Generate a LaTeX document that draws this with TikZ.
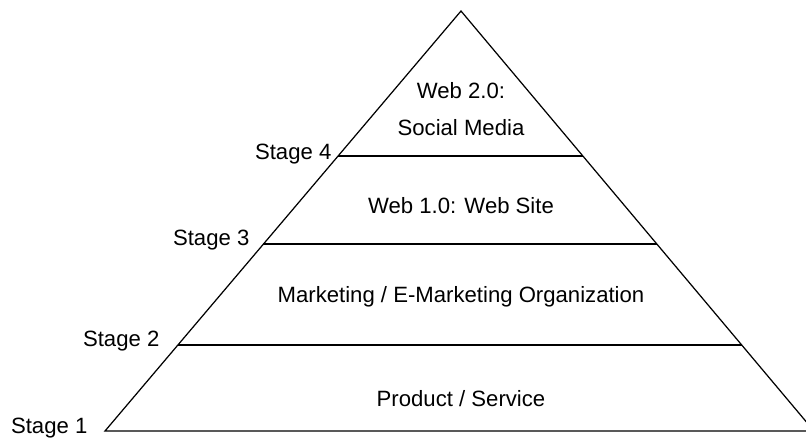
\documentclass[tikz,border=0pt]{standalone}
\usepackage{fontspec}
\setmainfont{Liberation Sans}
\usetikzlibrary{calc}

\tikzset{
  stagelbl/.style={anchor=base east,inner sep=0pt,font=\fontsize{12.6}{15}\selectfont},
  layerlbl/.style={anchor=base,inner sep=0pt,font=\fontsize{12.6}{15}\selectfont},
}

\begin{document}
\begin{tikzpicture}[x=0.02cm,y=-0.02cm,line width=0.7pt]
      \useasboundingbox (0,0) rectangle (806,437);
      \coordinate (top) at (461,11);
      \coordinate (bl) at (105,431);
      \coordinate (br) at (814,431);
      % pyramid
      \draw[line join=miter] (bl)--(top)--(br)--cycle;
      % stage lines
      \coordinate (s2l) at ($(bl)!0.2048!(top)$);
      \coordinate (s2r) at ($(br)!0.2048!(top)$);
      \coordinate (s3l) at ($(bl)!0.4452!(top)$);
      \coordinate (s3r) at ($(br)!0.4452!(top)$);
      \coordinate (s4l) at ($(bl)!0.6548!(top)$);
      \coordinate (s4r) at ($(br)!0.6548!(top)$);
      \draw (s2l)--(s2r);
      \draw (s3l)--(s3r);
      \draw (s4l)--(s4r);
      % stage labels
      \node[stagelbl] (st1) at (88,433) {Stage 1};
      \node[stagelbl] (st2) at (160,346) {Stage 2};
      \node[stagelbl] (st3) at (250,245) {Stage 3};
      \node[stagelbl] (st4) at (332,159) {Stage 4};
      % layer texts
      \node[layerlbl] (prod) at (461,406) {Product / Service};
      \node[layerlbl] (mkt) at (461,302) {Marketing / E-Marketing Organization};
      \node[layerlbl] (web1) at (461,213) {Web 1.0: Web Site};
      \node[layerlbl] (web2a) at (461,98) {Web 2.0:};
      \node[layerlbl] (web2b) at (461,135) {Social Media};
    \end{tikzpicture}
\end{document}
